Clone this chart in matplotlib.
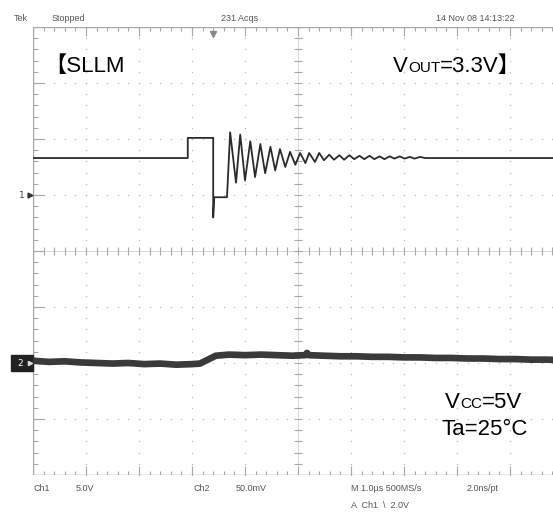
import matplotlib.pyplot as plt
import numpy as np

W, H = 553, 514

# graticule position on the screen (pixels); right edge is cut off by the picture
GX0, GX1 = 33, 563
GY0, GY1 = 27, 475

US_PER_DIV = 1.0      # M 1.0us
TRIG_DIV = 3.4        # trigger point, divisions from left edge
V1_PER_DIV = 5.0      # Ch1 5.0V
CH1_GND_DIV = 1       # Ch1 ground marker
MV2_PER_DIV = 50.0    # Ch2 50.0mV
CH2_GND_DIV = -2      # Ch2 ground marker

# Ch1 trace, time in us (trigger = 0), volts
ch1_t = [-3.40, -0.48, -0.48, 0.00, 0.00, 0.02, 0.26, 0.32, 0.43, 0.51, 0.60, 0.70,
         0.79, 0.89, 0.98, 1.08, 1.17, 1.26, 1.36, 1.45, 1.55, 1.64, 1.74, 1.81,
         1.92, 2.00, 2.09, 2.19, 2.28, 2.38, 2.47, 2.57, 2.66, 2.76, 2.85, 2.95,
         3.04, 3.14, 3.23, 3.33, 3.42, 3.52, 3.61, 3.71, 3.80, 3.90, 4.00, 6.60]
ch1_v = [3.3, 3.3, 5.1, 5.1, -2.0, -0.2, -0.2, 5.6, 1.1, 5.4, 1.3, 4.8,
         1.6, 4.55, 1.95, 4.3, 2.2, 4.1, 2.5, 3.85, 2.7, 3.75, 2.85, 3.75,
         2.95, 3.75, 3.1, 3.6, 3.15, 3.55, 3.15, 3.55, 3.2, 3.5, 3.2, 3.5,
         3.2, 3.45, 3.2, 3.45, 3.25, 3.45, 3.25, 3.4, 3.25, 3.4, 3.3, 3.3]

# Ch2 trace, time in us, millivolts
ch2_t = [-3.4, -3.1, -2.8, -2.5, -2.2, -1.9, -1.6, -1.3, -1.0, -0.7, -0.4, -0.25,
         -0.1, 0.05, 0.3, 0.6, 0.9, 1.2, 1.5, 1.74, 1.77, 1.80, 2.1, 2.4, 2.7,
         3.0, 3.3, 3.6, 3.9, 4.2, 4.5, 4.8, 5.1, 5.4, 5.7, 6.0, 6.3, 6.6]
ch2_mv = [2, 1, 1.5, 0.5, 0, -0.5, 0, -1, -0.5, -1.5, -1, -0.5,
          3, 6.5, 7.5, 7, 7.5, 7, 6.5, 7, 9, 7, 6.5, 6, 6,
          5.5, 5.5, 5, 5, 4.5, 4.5, 4, 4, 3.5, 3.5, 3, 3, 2.5]

header = [(14, "Tek"), (52, "Stopped"), (221, "231 Acqs"), (436, "14 Nov 08 14:13:22")]
footer = [(33, 491, "Ch1"), (76, 491, "5.0V"), (193, 491, "Ch2"), (236, 491, "50.0mV"),
          (351, 491, "M 1.0\u00b5s 500MS/s"), (467, 491, "2.0ns/pt"),
          (351, 508, "A  Ch1  \\  2.0V")]

GRID = '#a8a8a8'
DOTS = '#b8b8b8'
TRACE = '#2b2b2b'
BIG = ['Liberation Sans', 'Noto Sans CJK JP', 'DejaVu Sans']


def fy(y):
    return 1 - y / H


fig = plt.figure(figsize=(W / 100, H / 100), dpi=100)
pos = [GX0 / W, 1 - GY1 / H, (GX1 - GX0) / W, (GY1 - GY0) / H]

# graticule in divisions
g = fig.add_axes(pos)
g.set_xlim(0, 10)
g.set_ylim(-4, 4)
g.axis('off')

xs = np.arange(0, 10.001, 0.2)
ys = np.arange(-4, 4.001, 0.2)
for xi in range(1, 10):
    if xi != 5:
        g.plot([xi] * len(ys), ys, ls='none', marker='o', ms=1.0, color=DOTS, mew=0)
for yi in range(-3, 4):
    if yi != 0:
        g.plot(xs, [yi] * len(xs), ls='none', marker='o', ms=1.0, color=DOTS, mew=0)

g.axhline(0, color='#d0d0d0', lw=0.6)
g.axvline(5, color='#d0d0d0', lw=0.6)
g.vlines(xs, -0.07, 0.07, color=GRID, lw=0.8)
g.hlines(ys, 4.92, 5.08, color=GRID, lw=0.8)

# frame and edge ticks
g.plot([0, 0], [-4, 4], color=GRID, lw=1.0)
g.plot([0, 10], [4, 4], color=GRID, lw=1.0)
g.plot([0, 10], [-4, -4], color=GRID, lw=1.0)
g.vlines(xs, 4 - 0.08, 4, color=GRID, lw=0.8)
g.vlines(xs, -4, -4 + 0.08, color=GRID, lw=0.8)
g.vlines(range(1, 10), 4 - 0.16, 4, color=GRID, lw=0.8)
g.vlines(range(1, 10), -4, -4 + 0.16, color=GRID, lw=0.8)
g.hlines(ys, 0, 0.1, color=GRID, lw=0.8)
g.hlines(range(-3, 4), 0, 0.2, color=GRID, lw=0.8)

# channel axes
t_lo = -TRIG_DIV * US_PER_DIV
t_hi = (10 - TRIG_DIV) * US_PER_DIV
ax1 = fig.add_axes(pos, frameon=False)
ax1.set_xlim(t_lo, t_hi)
ax1.set_ylim((-4 - CH1_GND_DIV) * V1_PER_DIV, (4 - CH1_GND_DIV) * V1_PER_DIV)
ax1.axis('off')
ax2 = fig.add_axes(pos, frameon=False)
ax2.set_xlim(t_lo, t_hi)
ax2.set_ylim((-4 - CH2_GND_DIV) * MV2_PER_DIV, (4 - CH2_GND_DIV) * MV2_PER_DIV)
ax2.axis('off')

ax2.plot(ch2_t, ch2_mv, color='#3a3a3a', lw=4.8, solid_joinstyle='round')
ax1.plot(ch1_t, ch1_v, color=TRACE, lw=1.3)

# ground markers
tr1 = ax1.get_yaxis_transform()
ax1.text(-0.022, 0, "1", transform=tr1, ha='center', va='center', fontsize=6.5,
         color='#444', clip_on=False)
ax1.plot([-0.006], [0], transform=tr1, marker='>', ms=3.5, color='#333', clip_on=False)
tr2 = ax2.get_yaxis_transform()
ax2.add_patch(plt.Rectangle((-22 / 530, -7.5), 22 / 530, 15, transform=tr2,
                            color='#222', clip_on=False))
ax2.text(-0.024, 0, "2", transform=tr2, ha='center', va='center', fontsize=6.5,
         color='white', clip_on=False)
ax2.plot([-0.006], [0], transform=tr2, marker='>', ms=3, color='#ddd', clip_on=False)

# trigger position marker
ax1.plot([0], [0.985], transform=ax1.get_xaxis_transform(), marker='v', ms=5,
         color='#888', clip_on=False)

for x, s in header:
    fig.text(x / W, fy(21), s, fontsize=6.5, color='#555', family='Liberation Sans',
             va='baseline')
for x, y, s in footer:
    fig.text(x / W, fy(y), s, fontsize=6.5, color='#555', family='Liberation Sans',
             va='baseline')


def run_text(x, y, parts):
    r = fig.canvas.get_renderer()
    for s, size in parts:
        t = fig.text(x / W, fy(y), s, fontsize=size, family=BIG, va='baseline', ha='left')
        x += t.get_window_extent(r).width


run_text(44, 72, [("\u3010SLLM", 16)])
run_text(393, 72, [("V", 16), ("OUT", 11), ("=3.3V\u3011", 16)])
run_text(445, 408, [("V", 16), ("CC", 11), ("=5V", 16)])
run_text(442, 435, [("Ta=25\u00b0C", 16)])

fig.savefig('out.png', dpi=100)
